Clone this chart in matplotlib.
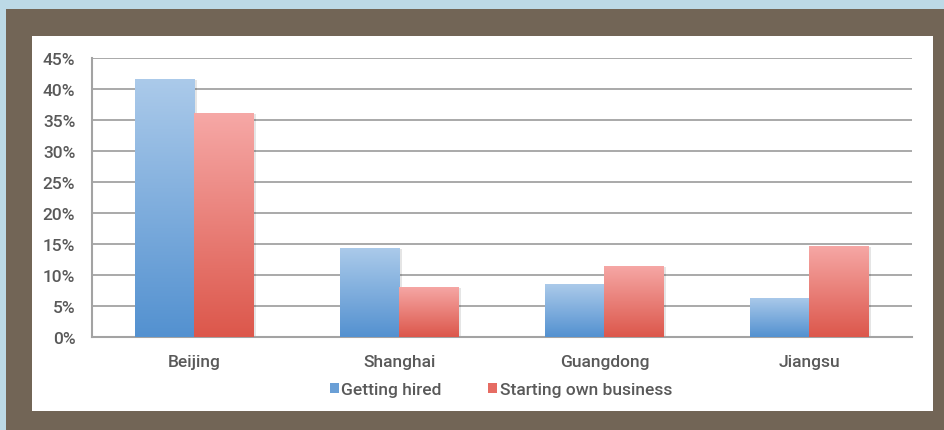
import numpy as np
import matplotlib.pyplot as plt
from matplotlib.colors import LinearSegmentedColormap
from matplotlib.patches import Rectangle
from matplotlib.ticker import FuncFormatter

regions = ["Beijing", "Shanghai", "Guangdong", "Jiangsu"]
getting_hired = [41.6, 14.3, 8.5, 6.3]
own_business = [36.1, 8.1, 11.5, 14.7]
series_names = ["Getting hired", "Starting own business"]

plt.rcParams["font.family"] = ["Roboto", "DejaVu Sans"]
TEXT = "#595959"
GRID = "#a3a3a3"

fig = plt.figure(figsize=(9.45, 4.31), dpi=100)
fig.patch.set_facecolor("#bcd9e6")

# brown frame and white card behind the chart
fig.patches.append(Rectangle((6 / 945, 0), 1, 421 / 431, transform=fig.transFigure,
                             facecolor="#726556", edgecolor="none", zorder=-3))
fig.patches.append(Rectangle((32 / 945, 19 / 431), 901 / 945, 375 / 431,
                             transform=fig.transFigure, facecolor="white",
                             edgecolor="none", zorder=-2))

ax = fig.add_axes([92 / 945, 93 / 431, 820 / 945, 279 / 431])
ax.set_facecolor("none")

x = np.arange(len(regions))
width = 0.288

blue_cmap = LinearSegmentedColormap.from_list("blue", ["#5391d0", "#abcaea"])
red_cmap = LinearSegmentedColormap.from_list("red", ["#dc574b", "#f6a8a6"])

def gradient_bars(xs, vals, cmap):
    bars = ax.bar(xs, vals, width, color="none", edgecolor="none", zorder=3)
    grad = np.linspace(0, 1, 256).reshape(-1, 1)
    for b in bars:
        x0, w, h = b.get_x(), b.get_width(), b.get_height()
        # soft drop shadow
        ax.add_patch(Rectangle((x0 + 0.012, 0), w, h - 0.15, facecolor="#000000",
                               alpha=0.10, edgecolor="none", zorder=2))
        im = ax.imshow(grad, cmap=cmap, origin="lower", aspect="auto",
                       extent=[x0, x0 + w, 0, h], zorder=3)
        im.set_clip_path(b)
    return bars

b1 = gradient_bars(x - width / 2, getting_hired, blue_cmap)
b2 = gradient_bars(x + width / 2, own_business, red_cmap)

ax.set_xlim(-0.5, len(regions) - 0.5)
ax.set_ylim(0, 45)
ax.set_yticks(np.arange(0, 46, 5))
ax.yaxis.set_major_formatter(FuncFormatter(lambda v, p: f"{v:.0f}%"))
ax.set_xticks(x)
ax.set_xticklabels(regions)
ax.tick_params(axis="both", length=0, labelsize=12.5, colors=TEXT)
ax.tick_params(axis="y", pad=12)
ax.tick_params(axis="x", pad=12)
for lbl in ax.get_xticklabels() + ax.get_yticklabels():
    lbl.set_fontweight("medium")

ax.grid(axis="y", color=GRID, linewidth=1.3, zorder=0)
ax.set_axisbelow(True)
for side in ["top", "right"]:
    ax.spines[side].set_visible(False)
for side in ["left", "bottom"]:
    ax.spines[side].set_color(GRID)
    ax.spines[side].set_linewidth(1.5)

handles = [Rectangle((0, 0), 1, 1, facecolor="#6a9fd6"),
           Rectangle((0, 0), 1, 1, facecolor="#e66c63")]
fig.legend(handles, series_names, loc="center", bbox_to_anchor=(501 / 945, 40 / 431),
           ncol=2, frameon=False, prop={"size": 12.5, "weight": "medium"},
           labelcolor=TEXT, handlelength=0.5, handleheight=0.5, handletextpad=0.15,
           columnspacing=2.7)

fig.savefig("out.png", dpi=100)
